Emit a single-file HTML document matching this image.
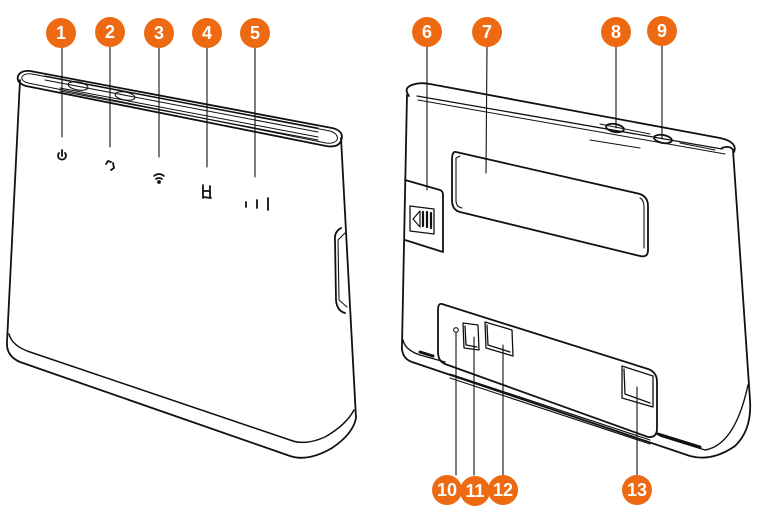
<!DOCTYPE html>
<html><head><meta charset="utf-8"><style>
html,body{margin:0;padding:0;background:#fff;width:760px;height:514px;overflow:hidden}
svg{display:block}
text{font-family:"Liberation Sans",sans-serif;font-size:18px;fill:#fff;text-anchor:middle}
</style></head><body>
<svg width="760" height="514" viewBox="0 0 760 514" xmlns="http://www.w3.org/2000/svg">
<g fill="none" stroke="#111" stroke-width="1.8" stroke-linejoin="round" stroke-linecap="round">
<!-- LEFT DEVICE -->
<path d="M30,71 L332,128 Q345,131 341,141 Q338,148 326,146 L26,86 Q16,83 18,76 Q21,70 30,71 Z"/>
<path d="M32,74 L330,131 Q339,134 337,140 Q334,144 326,143 L28,83 Q21,81 22,77 Q24,73 32,74 Z" stroke-width="1"/>
<path d="M45,76 L318,128 M45,80 L318,132 M60,88 L318,137 M60,91 L318,140" stroke-width="1"/>
<ellipse cx="78" cy="86" rx="10" ry="4" transform="rotate(10 78 86)" stroke-width="1.1"/>
<ellipse cx="125" cy="96" rx="10" ry="4" transform="rotate(10 125 96)" stroke-width="1.1"/>
<path d="M20,80 L7,342 Q6,356 20,362 L290,456 Q308,462 332,448 Q353,434 356,418 L341,138"/>
<path d="M9,334 Q12,346 30,352 L290,440 Q305,446 325,437 Q346,425 354,410" stroke-width="1.5"/>
<path d="M341,228 Q334,232 335,240 L336,300 Q337,311 345,313"/>
<path d="M345,233 L338,240 L339,300 L347,307" stroke-width="1.1"/>
<path d="M59,153 A4,4 0 1 0 65,153 M62,150 L62,156" stroke-width="1.8"/>
<path d="M106,164 L108,161 L111,162 M113,163 L114,168 L111,170" stroke-width="1.8"/>
<path d="M154,176 Q159,172 164,176 M156,179 Q159,177 162,179" stroke-width="1.7"/>
<circle cx="159" cy="182" r="1" fill="#111"/>
<path d="M203,185 L203,198 M203,191 L210,191 M210,186 L210,197 M203,197 L211,198" stroke-width="1.8"/>
<path d="M246,202 L246,207 M257,200 L257,208 M268,198 L268,210" stroke-width="1.8"/>
<path d="M62,48 L62,137 M110,47 L110,147 M159,48 L159,157 M207,48 L207,167 M255,48 L255,177" stroke-width="1.1"/>

<!-- RIGHT DEVICE -->
<path d="M412,85 Q420,82 430,84 L720,138 Q738,142 734,152"/>
<path d="M409,96 Q403,88 412,85"/>
<path d="M417,96 L722,149" stroke-width="1.3"/>
<path d="M418,100 L725,154" stroke-width="1"/>
<path d="M600,124 L650,134 M590,140 L640,148 M680,143 L715,150" stroke-width="1"/>
<ellipse cx="615" cy="128" rx="9" ry="4" transform="rotate(10 615 128)"/>
<ellipse cx="663" cy="139" rx="9" ry="4" transform="rotate(10 663 139)"/>
<path d="M407,95 L402,345 Q401,358 412,362 L690,456 Q712,462 735,446 Q752,430 750,400 L733,150 Q730,145 722,148"/>
<path d="M403,340 Q405,350 420,355 L445,362 M660,436 L705,450 Q735,445 748,385" stroke-width="1.4"/>
<path d="M420,352 L433,356" stroke-width="3"/>
<path d="M658,434 L700,447" stroke-width="3"/>
<path d="M450,374 L650,440 M450,378 L650,444" stroke-width="1.1"/>
<path d="M456,152 L640,194 Q648,197 648,206 L648,250 Q648,258 640,256 L460,212 Q452,210 452,200 L452,160 Q452,151 456,152 Z"/>
<path d="M460,156 L456,158 L456,200 Q456,207 462,208 M640,198 Q644,200 644,207 L644,248" stroke-width="1.1"/>
<path d="M405,180 L440,190 Q443,191 443,195 L443,252 L405,240"/>
<path d="M410,206 L434,209 L434,234 L410,231 Z" stroke-width="1.3"/>
<path d="M420,211 L413,219 L420,227 Z" stroke-width="1.2"/>
<path d="M423,212 L423,226 M427,212 L427,227 M431,213 L431,228" stroke-width="2.2"/>
<path d="M442,304 L648,369 Q657,372 657,382 L657,430 Q656,438 648,437 L445,364 Q438,361 438,352 L438,310 Q438,303 442,304 Z"/>
<circle cx="456" cy="330" r="2.3" stroke-width="1.1"/>
<path d="M463,323 L478,325 L479,350 L464,348 Z M465,326 L466,345 L477,347" stroke-width="1.3"/>
<path d="M485,322 L512,330 L513,356 L486,348 Z M487,325 L488,345 L510,352" stroke-width="1.3"/>
<path d="M622,366 L653,376 L653,407 L622,398 Z M624,369 L625,394 L650,403" stroke-width="1.3"/>
<path d="M427,47 L427,190 M487,47 L486,173 M616,47 L616,128 M662,46 L662,138" stroke-width="1.1"/>
<path d="M456,333 L456,475 M474,337 L474,475 M503,345 L503,475 M637,387 L637,475" stroke-width="1.1"/>
</g>
<g fill="#ed6a13">
<circle cx="61" cy="33" r="15"/><circle cx="110" cy="32" r="15"/><circle cx="159" cy="33" r="15"/><circle cx="207" cy="33" r="15"/><circle cx="255" cy="33" r="15"/>
<circle cx="427" cy="32" r="15"/><circle cx="487" cy="32" r="15"/><circle cx="616" cy="32" r="15"/><circle cx="662" cy="31" r="15"/>
<circle cx="447" cy="490" r="15"/><circle cx="475" cy="491" r="15"/><circle cx="503" cy="490" r="15"/><circle cx="637" cy="490" r="15"/>
</g>
<g font-weight="bold">
<text x="61" y="39">1</text><text x="110" y="38">2</text><text x="159" y="39">3</text><text x="207" y="39">4</text><text x="255" y="39">5</text>
<text x="427" y="38">6</text><text x="487" y="38">7</text><text x="616" y="38">8</text><text x="662" y="37">9</text>
<text x="447" y="496">10</text><text x="475" y="497">11</text><text x="503" y="496">12</text><text x="637" y="496">13</text>
</g>
</svg>
</body></html>
